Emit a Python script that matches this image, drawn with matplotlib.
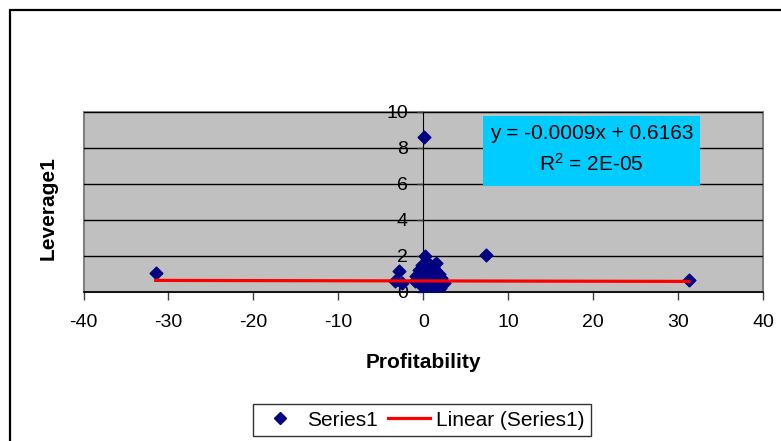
import matplotlib.pyplot as plt
from matplotlib.patches import Rectangle
from matplotlib.lines import Line2D

plt.rcParams['font.family'] = ['Liberation Sans', 'DejaVu Sans']
plt.rcParams['axes.unicode_minus'] = False

# Profitability vs Leverage1 observations
profitability = [-31.5, 31.3, 0.1, 7.4, 0.2, -2.8, -3.3, -2.5,
                 -0.8, -0.5, -0.3, -0.1, 0.0, 0.1, 0.2, 0.3, 0.4, 0.5,
                 0.6, 0.7, 0.8, 0.9, 1.0, 1.1, 1.2, 1.3, 1.5, 1.6, 1.8,
                 2.0, 2.1, 2.5, 0.0, 0.3, -0.2, 0.6, 1.4, 0.8, -1.0, 1.9,
                 0.5, 1.2]
leverage = [1.05, 0.67, 8.6, 2.05, 2.0, 1.15, 0.6, 0.5,
            0.9, 1.2, 0.7, 1.5, 0.3, 1.0, 0.0, 0.5, 1.3, 0.8,
            0.2, 1.1, 0.6, 0.4, 0.9, 1.4, 0.3, 0.7, 1.6, 0.5, 1.0,
            0.2, 0.8, 0.5, 0.9, 1.6, 0.4, 0.0, 1.2, 1.5, 0.6, 0.35,
            0.55, 0.05]

# fitted trend line
slope = -0.0009
intercept = 0.6163
r_squared = '2E-05'

fig = plt.figure(figsize=(7.81, 4.41), dpi=100)
W, H = 781, 441

# chart area border
fig.patches.append(Rectangle((10 / W, -0.05), 1.0, 1 - 10 / H + 0.05,
                             transform=fig.transFigure, fill=False,
                             edgecolor='black', lw=1.6))

ax = fig.add_axes([83.5 / W, (H - 292) / H, 679.5 / W, 180 / H])
ax.set_facecolor('#C0C0C0')
ax.set_xlim(-40, 40)
ax.set_ylim(0, 10)

for y in [2, 4, 6, 8, 10]:
    ax.axhline(y, color='black', lw=1, zorder=1)

ax.spines['top'].set_visible(False)
ax.spines['right'].set_visible(False)
ax.spines['left'].set_position(('data', 0))
ax.spines['left'].set_color('black')
ax.spines['bottom'].set_color('black')
ax.spines['bottom'].set_linewidth(1.2)
ax.add_patch(Rectangle((0, 0), 1, 1, transform=ax.transAxes, fill=False,
                       edgecolor='#808080', lw=1.5, zorder=0.5, clip_on=False))

ax.set_xticks(range(-40, 41, 10))
ax.set_yticks(range(0, 11, 2))
ax.tick_params(axis='both', direction='out', width=1, labelsize=14,
               color='#404040')
ax.tick_params(axis='x', length=6, pad=10)
ax.tick_params(axis='y', length=4, pad=7)

ax.scatter(profitability, leverage, marker='D', s=42, color='#000080',
           zorder=3, label='Series1')
x0, x1 = min(profitability), max(profitability)
ax.plot([x0, x1], [slope * x0 + intercept, slope * x1 + intercept],
        color='#FF0000', lw=2.3, zorder=4, label='Linear (Series1)')

ax.add_patch(Rectangle((0.588, 0.589), 0.319, 0.389, transform=ax.transAxes,
                       facecolor='#00CCFF', edgecolor='none', zorder=5))
ax.text(0.748, 0.88, 'y = -0.0009x + 0.6163', transform=ax.transAxes,
        ha='center', va='center', fontsize=15, zorder=6)
ax.text(0.748, 0.71, '$\\mathregular{R^2}$ = ' + r_squared,
        transform=ax.transAxes, ha='center', va='center', fontsize=15,
        zorder=6)

fig.text(423 / W, 1 - 362 / H, 'Profitability', ha='center', va='center',
         fontsize=15, fontweight='bold')
fig.text(48 / W, 1 - 208 / H, 'Leverage1', ha='center', va='center',
         rotation=90, fontsize=15, fontweight='bold')

handles = [Line2D([], [], marker='D', ls='none', color='#000080', ms=6),
           Line2D([], [], color='#FF0000', lw=2.3)]
leg = fig.legend(handles, ['Series1', 'Linear (Series1)'], loc='center',
                 bbox_to_anchor=(422 / W, 1 - 420 / H), ncol=2, fontsize=15,
                 frameon=True, fancybox=False, edgecolor='black',
                 handlelength=2.0, handletextpad=0.3, columnspacing=0.5,
                 borderpad=0.3)
leg.get_frame().set_linewidth(1)

fig.savefig('out.png', dpi=100, facecolor='white')
